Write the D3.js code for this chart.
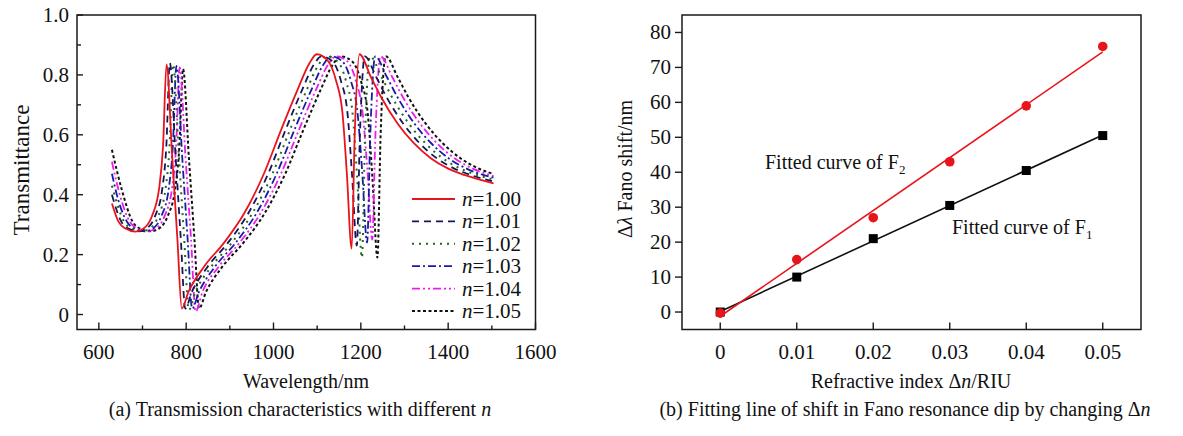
<!DOCTYPE html>
<html>
<head>
<meta charset="utf-8">
<script src="https://cdn.jsdelivr.net/npm/d3@7/dist/d3.min.js"></script>
<style>
  html, body { margin: 0; padding: 0; background: #fff; }
  svg text { font-family: "Liberation Serif", "Times New Roman", serif; fill: #111; }
</style>
</head>
<body>
<svg id="fig" width="1183" height="436"></svg>
<script>
// ---------- (a) transmission spectra, [wavelength nm, transmittance] ----------
const specN100 = [[630,0.371],[645,0.31],[660,0.288],[684,0.277],[705,0.29],[722,0.33],[738,0.42],[747,0.56],[755,0.835],[768,0.527],[780,0.25],[790,0.02],[805,0.075],[840,0.158],[887,0.24],[933,0.338],[978,0.47],[1017,0.615],[1055,0.75],[1082,0.838],[1099,0.869],[1124,0.848],[1143,0.782],[1158,0.672],[1168,0.47],[1179,0.22],[1186,0.60],[1197,0.869],[1223,0.793],[1246,0.727],[1284,0.638],[1322,0.571],[1361,0.521],[1399,0.488],[1437,0.466],[1504,0.438]];
const specN101 = [[630,0.40],[651.5,0.31],[666.6,0.288],[690.8,0.278],[712,0.29],[729.2,0.33],[745.4,0.42],[754.5,0.56],[762.6,0.84],[775.7,0.53],[787.8,0.25],[797.9,0.02],[813,0.075],[848.4,0.158],[895.9,0.24],[942.3,0.338],[987.8,0.47],[1027.2,0.615],[1065.6,0.75],[1092.8,0.835],[1110,0.862],[1135.2,0.845],[1154.4,0.78],[1169.6,0.67],[1179.7,0.47],[1190.8,0.23],[1197.9,0.60],[1209,0.862],[1235.2,0.793],[1258.5,0.727],[1296.8,0.638],[1335.2,0.571],[1374.6,0.521],[1413,0.488],[1451.4,0.466],[1504,0.444]];
const specN102 = [[630,0.43],[657.9,0.31],[673.2,0.288],[697.7,0.278],[719.1,0.29],[736.4,0.33],[752.8,0.42],[761.9,0.56],[770.1,0.835],[783.4,0.527],[795.6,0.25],[805.8,0.015],[821.1,0.075],[856.8,0.158],[904.7,0.24],[951.7,0.338],[997.6,0.47],[1037.3,0.615],[1076.1,0.75],[1103.6,0.835],[1121,0.862],[1146.5,0.845],[1165.9,0.78],[1181.2,0.67],[1191.4,0.46],[1202.6,0.19],[1209.7,0.60],[1220.9,0.862],[1247.5,0.793],[1270.9,0.727],[1309.7,0.638],[1348.4,0.571],[1388.2,0.521],[1427,0.488],[1465.7,0.466],[1504,0.451]];
const specN103 = [[630,0.47],[645,0.38],[664.4,0.31],[679.8,0.288],[704.5,0.278],[726.2,0.29],[743.7,0.33],[760.1,0.42],[769.4,0.56],[777.7,0.83],[791,0.525],[803.4,0.25],[813.7,0.02],[829.2,0.075],[865.2,0.158],[913.6,0.24],[961,0.338],[1007.3,0.47],[1047.5,0.615],[1086.7,0.75],[1114.5,0.835],[1132,0.862],[1157.7,0.845],[1177.3,0.78],[1192.7,0.67],[1203,0.48],[1214.4,0.24],[1221.6,0.60],[1232.9,0.862],[1259.7,0.793],[1283.4,0.727],[1322.5,0.638],[1361.7,0.571],[1401.8,0.521],[1441,0.488],[1480.1,0.466],[1504,0.457]];
const specN104 = [[630,0.51],[648,0.40],[670.8,0.31],[686.4,0.288],[711.4,0.278],[733.2,0.29],[750.9,0.33],[767.5,0.42],[776.9,0.56],[785.2,0.825],[798.7,0.52],[811.2,0.25],[821.6,0.01],[837.2,0.075],[873.6,0.158],[922.5,0.24],[970.3,0.338],[1017.1,0.47],[1057.7,0.615],[1097.2,0.75],[1125.3,0.835],[1143,0.862],[1169,0.845],[1188.7,0.78],[1204.3,0.67],[1214.7,0.49],[1226.2,0.25],[1233.4,0.60],[1244.9,0.862],[1271.9,0.793],[1295.8,0.727],[1335.4,0.638],[1374.9,0.571],[1415.4,0.521],[1455,0.488],[1504,0.462]];
const specN105 = [[630,0.55],[652,0.42],[677.3,0.31],[693,0.288],[718.2,0.278],[740.3,0.29],[758.1,0.33],[774.9,0.42],[784.4,0.56],[792.8,0.82],[806.4,0.52],[819,0.25],[829.5,0.02],[845.3,0.075],[882,0.158],[931.4,0.24],[979.7,0.338],[1026.9,0.47],[1067.9,0.615],[1107.8,0.75],[1136.1,0.835],[1154,0.862],[1180.2,0.845],[1200.2,0.78],[1215.9,0.67],[1226.4,0.46],[1238,0.19],[1245.3,0.60],[1256.9,0.862],[1284.2,0.793],[1308.3,0.727],[1348.2,0.638],[1388.1,0.571],[1429,0.521],[1469,0.488],[1504,0.469]];

const indexLabels = ["1.00","1.01","1.02","1.03","1.04","1.05"];
const wavelengthTicks = [600,800,1000,1200,1400,1600];
const transTicks = [0,0.2,0.4,0.6,0.8,1.0];

// ---------- (b) Fano dip shift versus index change ----------
const deltaN = [0,0.01,0.02,0.03,0.04,0.05];
const shiftF1 = [0,10,21,30.5,40.5,50.5];
const shiftF2 = [-0.3,15,27,43,59,76];
const deltaNTicks = ["0","0.01","0.02","0.03","0.04","0.05"];
const shiftTicks = [0,10,20,30,40,50,60,70,80];

const svg = d3.select("#fig");
svg.append("rect").attr("width",1183).attr("height",436).attr("fill","#fff");
const INK = "#1a1a1a";
const FS = 20;      // titles and captions
const FT = 21;      // tick labels and legend

// ===================== panel (a) =====================
const xa = d3.scaleLinear().domain([550,1600]).range([77,535.5]);
const ya = d3.scaleLinear().domain([-0.05,1.0]).range([329.5,15]);
const ga = svg.append("g");

// inward ticks on left and bottom
ga.append("g").selectAll("line").data(d3.range(0,1.01,0.1)).join("line")
  .attr("x1",xa.range()[0]).attr("x2",(d,i)=> xa.range()[0] + (i%2===0?6:4))
  .attr("y1",d=>ya(d)).attr("y2",d=>ya(d)).attr("stroke",INK).attr("stroke-width",1.4);
ga.append("g").selectAll("line").data(d3.range(600,1601,100)).join("line")
  .attr("x1",d=>xa(d)).attr("x2",d=>xa(d))
  .attr("y1",ya.range()[0]).attr("y2",(d,i)=> ya.range()[0] - (i%2===0?7:4))
  .attr("stroke",INK).attr("stroke-width",1.4);

ga.append("g").selectAll("text").data(transTicks).join("text")
  .attr("x",xa.range()[0]-8).attr("y",d=>ya(d)+7).attr("text-anchor","end")
  .attr("font-size",FT).text(d=> d===0 ? "0" : d.toFixed(1));
ga.append("g").selectAll("text").data(wavelengthTicks).join("text")
  .attr("x",d=>xa(d)).attr("y",359).attr("text-anchor","middle")
  .attr("font-size",FT).text(d=>d);

const specStyles = [
  {data:specN100, color:"#e8141b", dash:null,          w:1.8},
  {data:specN101, color:"#15155a", dash:"7 5",         w:1.8},
  {data:specN102, color:"#1d6b1d", dash:"2 5",         w:2.0},
  {data:specN103, color:"#1a1aa8", dash:"8 3 2 3",     w:1.8},
  {data:specN104, color:"#ee1cee", dash:"8 3 2 3 2 3", w:1.8},
  {data:specN105, color:"#111111", dash:"3 2.5",       w:2.0}
];
const lineA = d3.line().x(d=>xa(d[0])).y(d=>ya(d[1])).curve(d3.curveMonotoneX);
// draw the shifted curves first so the reference curve stays on top
specStyles.slice().reverse().forEach(s => {
  ga.append("path").attr("d",lineA(s.data)).attr("fill","none")
    .attr("stroke",s.color).attr("stroke-width",s.w)
    .attr("stroke-dasharray",s.dash).attr("stroke-linejoin","round");
});

ga.append("rect").attr("x",xa.range()[0]).attr("y",ya.range()[1])
  .attr("width",xa.range()[1]-xa.range()[0]).attr("height",ya.range()[0]-ya.range()[1])
  .attr("fill","none").attr("stroke",INK).attr("stroke-width",1.5);

// legend
const lg = ga.append("g");
specStyles.forEach((s,i) => {
  const yy = 199 + i*22.4;
  lg.append("line").attr("x1",412).attr("x2",455).attr("y1",yy).attr("y2",yy)
    .attr("stroke",s.color).attr("stroke-width",s.w).attr("stroke-dasharray",s.dash);
  const t = lg.append("text").attr("x",462).attr("y",yy+7).attr("font-size",FT);
  t.append("tspan").attr("font-style","italic").text("n");
  t.append("tspan").text("=" + indexLabels[i]);
});

ga.append("text").attr("transform","translate(29,170) rotate(-90)")
  .attr("text-anchor","middle").attr("font-size",23).text("Transmittance");
ga.append("text").attr("x",306).attr("y",388).attr("text-anchor","middle")
  .attr("font-size",FS).text("Wavelength/nm");
const capA = ga.append("text").attr("x",300).attr("y",416).attr("text-anchor","middle").attr("font-size",FS);
capA.append("tspan").text("(a) Transmission characteristics with different ");
capA.append("tspan").attr("font-style","italic").text("n");

// ===================== panel (b) =====================
const xb = d3.scaleLinear().domain([-0.005,0.055]).range([682,1141]);
const yb = d3.scaleLinear().domain([-5,85]).range([329.5,15]);
const gb = svg.append("g");

gb.append("g").selectAll("line").data(shiftTicks).join("line")
  .attr("x1",xb.range()[0]-7).attr("x2",xb.range()[0])
  .attr("y1",d=>yb(d)).attr("y2",d=>yb(d)).attr("stroke",INK).attr("stroke-width",1.4);
gb.append("g").selectAll("line").data(deltaN).join("line")
  .attr("x1",d=>xb(d)).attr("x2",d=>xb(d))
  .attr("y1",yb.range()[0]).attr("y2",yb.range()[0]-7).attr("stroke",INK).attr("stroke-width",1.4);

gb.append("g").selectAll("text").data(shiftTicks).join("text")
  .attr("x",xb.range()[0]-11).attr("y",d=>yb(d)+7).attr("text-anchor","end")
  .attr("font-size",FT).text(d=>d);
gb.append("g").selectAll("text").data(deltaN).join("text")
  .attr("x",d=>xb(d)).attr("y",359).attr("text-anchor","middle")
  .attr("font-size",FT).text((d,i)=>deltaNTicks[i]);

// least-squares fit through each set of dips
function fit(xs, ys) {
  const mx = d3.mean(xs), my = d3.mean(ys);
  const k = d3.sum(xs, (x,i)=>(x-mx)*(ys[i]-my)) / d3.sum(xs, x=>(x-mx)*(x-mx));
  return {k, b: my - k*mx};
}
const fitF1 = fit(deltaN, shiftF1), fitF2 = fit(deltaN, shiftF2);
const xEnds = [deltaN[0], deltaN[deltaN.length-1]];
[[fitF1,"#111"],[fitF2,"#e8141b"]].forEach(([f,c]) => {
  gb.append("line")
    .attr("x1",xb(xEnds[0])).attr("y1",yb(f.k*xEnds[0]+f.b))
    .attr("x2",xb(xEnds[1])).attr("y2",yb(f.k*xEnds[1]+f.b))
    .attr("stroke",c).attr("stroke-width",1.6);
});

gb.append("g").selectAll("rect").data(deltaN).join("rect")
  .attr("x",d=>xb(d)-4.5).attr("y",(d,i)=>yb(shiftF1[i])-4.5)
  .attr("width",9).attr("height",9).attr("fill","#000");
gb.append("g").selectAll("circle").data(deltaN).join("circle")
  .attr("cx",d=>xb(d)).attr("cy",(d,i)=>yb(shiftF2[i])).attr("r",4.8).attr("fill","#e8141b");

gb.append("rect").attr("x",xb.range()[0]).attr("y",yb.range()[1])
  .attr("width",xb.range()[1]-xb.range()[0]).attr("height",yb.range()[0]-yb.range()[1])
  .attr("fill","none").attr("stroke",INK).attr("stroke-width",1.5);

function fittedLabel(x, y, sub) {
  const t = gb.append("text").attr("x",x).attr("y",y).attr("font-size",FS);
  t.append("tspan").text("Fitted curve of F");
  t.append("tspan").attr("font-size",13).attr("dy",5).text(sub);
}
fittedLabel(765, 169, "2");
fittedLabel(952, 234, "1");

const yt = gb.append("text").attr("transform","translate(632,169) rotate(-90)")
  .attr("text-anchor","middle").attr("font-size",FS);
yt.append("tspan").text("Δ");
yt.append("tspan").attr("font-style","italic").text("λ");
yt.append("tspan").text(" Fano shift/nm");

const xt = gb.append("text").attr("x",911).attr("y",388).attr("text-anchor","middle").attr("font-size",FS);
xt.append("tspan").text("Refractive index Δ");
xt.append("tspan").attr("font-style","italic").text("n");
xt.append("tspan").text("/RIU");

const capB = gb.append("text").attr("x",905).attr("y",416).attr("text-anchor","middle").attr("font-size",FS);
capB.append("tspan").text("(b) Fitting line of shift in Fano resonance dip by changing Δ");
capB.append("tspan").attr("font-style","italic").text("n");
</script>
</body>
</html>
